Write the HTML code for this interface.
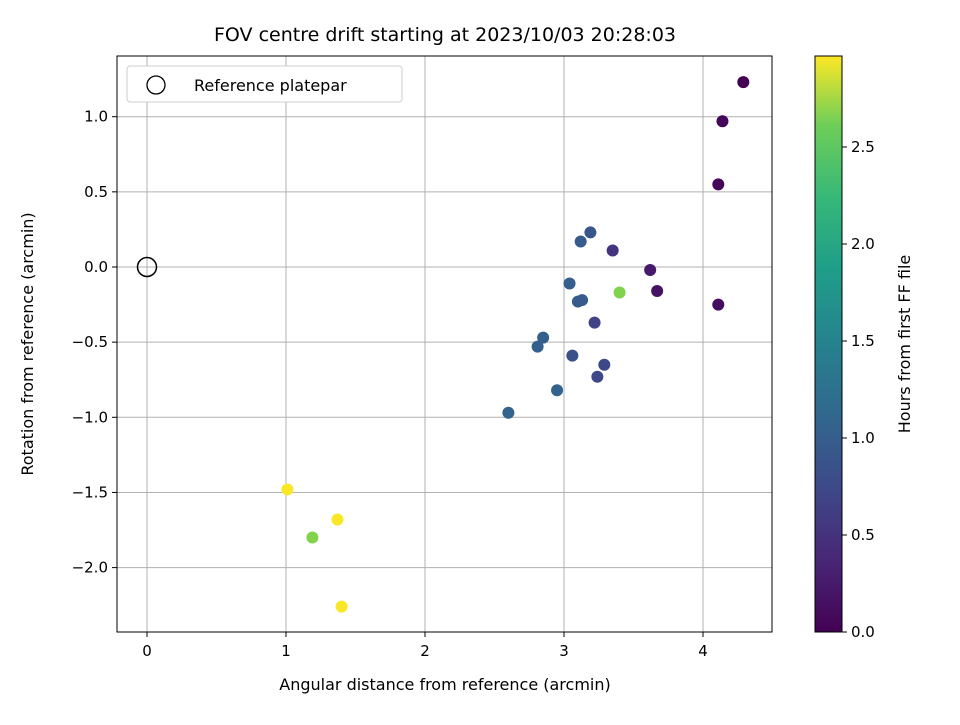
<!DOCTYPE html>
<html><head><meta charset="utf-8"><style>
body{margin:0;background:#fff;font-family:"Liberation Sans","DejaVu Sans",sans-serif;}
svg text{font-family:"DejaVu Sans","Liberation Sans",sans-serif;fill:#000;}
</style></head><body>
<svg id="c" width="960" height="720" viewBox="0 0 960 720" xmlns="http://www.w3.org/2000/svg">
<defs><linearGradient id="vir" x1="0" y1="1" x2="0" y2="0">
<stop offset="0" stop-color="#440154"/><stop offset="0.13" stop-color="#482878"/><stop offset="0.25" stop-color="#3e4989"/><stop offset="0.38" stop-color="#31688e"/><stop offset="0.5" stop-color="#26828e"/><stop offset="0.63" stop-color="#1f9e89"/><stop offset="0.75" stop-color="#35b779"/><stop offset="0.88" stop-color="#6ece58"/><stop offset="1" stop-color="#fde725"/></linearGradient></defs>
<text x="445" y="41" text-anchor="middle" font-size="19">FOV centre drift starting at 2023/10/03 20:28:03</text>
<g id="grid"></g><g id="pts"></g>
<rect x="117" y="56" width="655" height="576" fill="none" stroke="#000" stroke-width="1"/>
<g id="axes"></g>
<text x="445" y="690" text-anchor="middle" font-size="16">Angular distance from reference (arcmin)</text>
<text transform="translate(33,344) rotate(-90)" text-anchor="middle" font-size="16">Rotation from reference (arcmin)</text>
<g>
<rect x="127" y="66" width="275" height="36" rx="3" fill="#fff" stroke="#ccc"/>
<circle cx="156" cy="85" r="9" fill="none" stroke="#000" stroke-width="1.3"/>
<text x="194" y="91" font-size="16">Reference platepar</text></g>
<rect x="815" y="56" width="27" height="576" fill="url(#vir)" stroke="#000"/>
<g id="cbar"></g>
<text transform="translate(910,344) rotate(-90)" text-anchor="middle" font-size="16">Hours from first FF file</text>
</svg>
<script>
const xs=[4.29,4.14,4.11,4.11,3.67,3.62,3.35,3.19,3.12,3.04,3.10,3.13,3.40,3.22,2.85,2.81,3.06,3.29,3.24,2.95,2.60,1.01,1.19,1.37,1.40];
const ys=[1.23,0.97,0.55,-0.25,-0.16,-0.02,0.11,0.23,0.17,-0.11,-0.23,-0.22,-0.17,-0.37,-0.47,-0.53,-0.59,-0.65,-0.73,-0.82,-0.97,-1.48,-1.80,-1.68,-2.26];
const hours=[0.0,0.05,0.05,0.1,0.15,0.2,0.45,0.8,0.85,0.9,0.85,0.85,2.4,0.6,0.9,0.9,0.75,0.65,0.65,0.95,0.95,2.95,2.4,2.95,2.95];
const xTicks=[0,1,2,3,4];
const yTicks=[1.0,0.5,0.0,-0.5,-1.0,-1.5,-2.0];
const cTicks=[0.0,0.5,1.0,1.5,2.0,2.5];
const X=v=>147+v*139, Y=v=>267-v*150.3, C=v=>632-v*194, HMAX=2.97;
const NS='http://www.w3.org/2000/svg';
function mk(p,t,a){const e=document.createElementNS(NS,t);for(const k in a)e.setAttribute(k,a[k]);document.getElementById(p).appendChild(e);return e;}
const vir=[[68,1,84],[72,40,120],[62,73,137],[49,104,142],[38,130,142],[31,158,137],[53,183,121],[110,206,88],[181,222,43],[253,231,37]];
function col(t){t=Math.max(0,Math.min(1,t))*(vir.length-1);const i=Math.min(Math.floor(t),vir.length-2),f=t-i;const c=vir[i].map((a,k)=>Math.round(a+(vir[i+1][k]-a)*f));return`rgb(${c})`;}
xTicks.forEach(v=>{const l=mk('grid','line',{x1:X(v),x2:X(v),y1:56,y2:632,stroke:'#b0b0b0'});

mk('axes','line',{x1:X(v),x2:X(v),y1:632,y2:637,stroke:'#000'});
const t=mk('axes','text',{x:X(v),y:656,'text-anchor':'middle','font-size':'15'});t.textContent=v;
});
yTicks.forEach(v=>{const l=mk('grid','line',{x1:117,x2:772,y1:Y(v),y2:Y(v),stroke:'#b0b0b0'});

mk('axes','line',{x1:112,x2:117,y1:Y(v),y2:Y(v),stroke:'#000'});
const t=mk('axes','text',{x:108,y:Y(v)+5,'text-anchor':'end','font-size':'15'});t.textContent=v.toFixed(1).replace('-','\u2212');
});
cTicks.forEach(v=>{mk('cbar','line',{x1:842,x2:847,y1:C(v),y2:C(v),stroke:'#000'});
const t=mk('cbar','text',{x:851,y:C(v)+5,'font-size':'15'});t.textContent=v.toFixed(1);
});
const r=mk('pts','circle',{cx:X(0),cy:Y(0),r:9.5,fill:'none',stroke:'#000','stroke-width':1.5});

xs.forEach((x,i)=>{const c=mk('pts','circle',{cx:X(x),cy:Y(ys[i]),r:6,fill:col(hours[i]/HMAX)});
});
</script>
</body></html>
